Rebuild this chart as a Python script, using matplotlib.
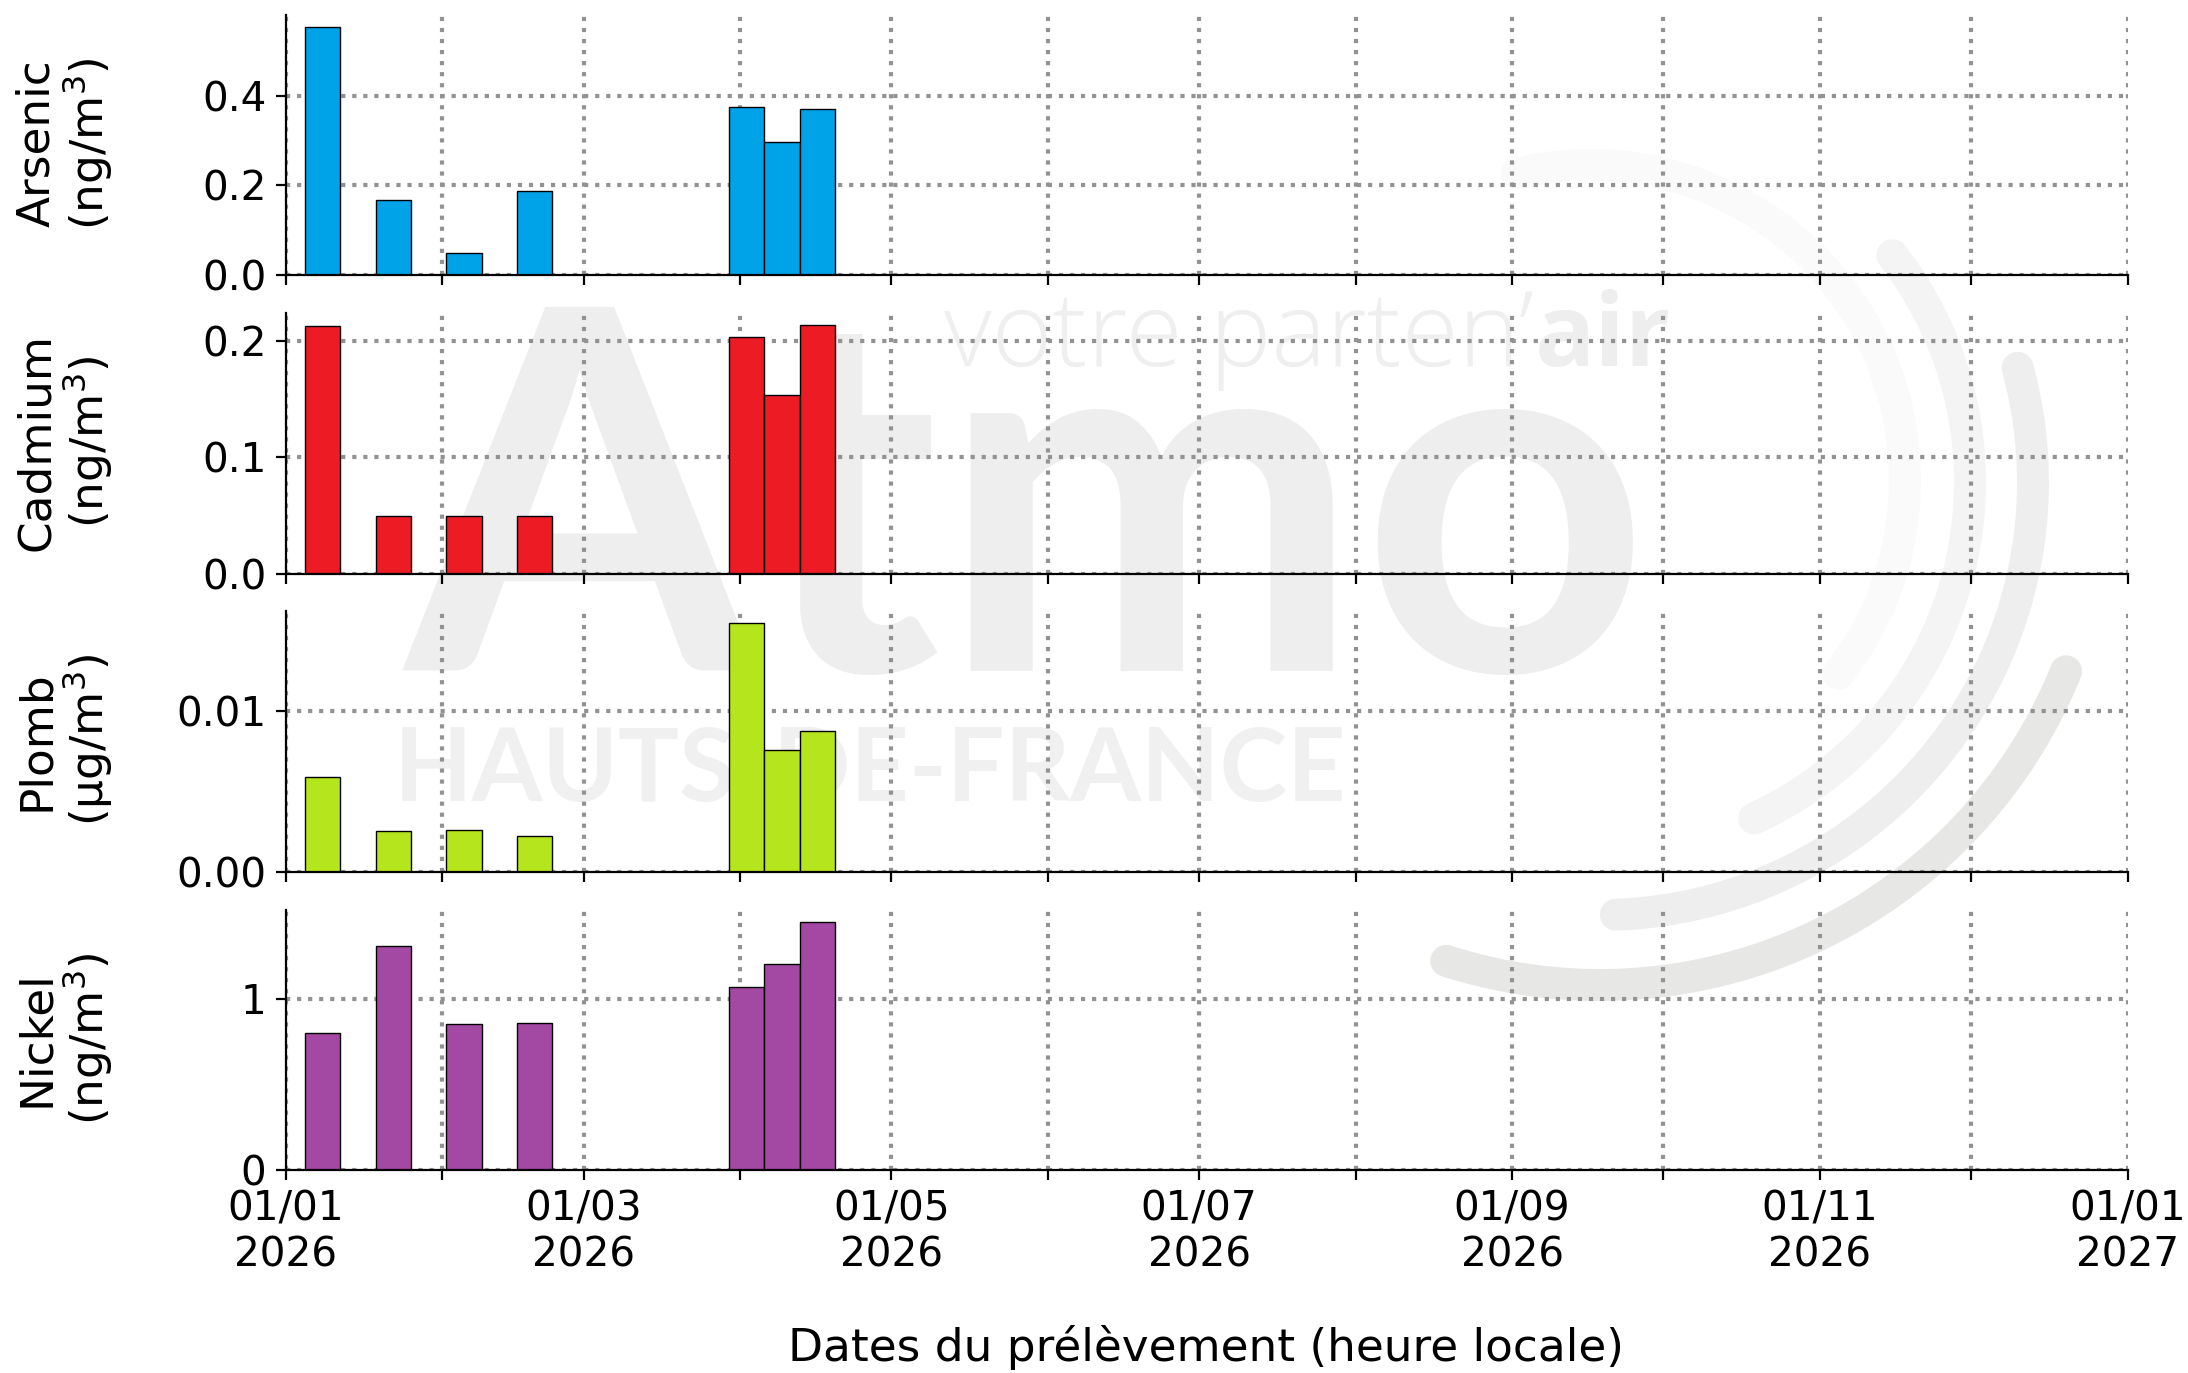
import datetime as dt

import matplotlib
matplotlib.use("Agg")
import matplotlib.dates as mdates
import matplotlib.pyplot as plt
import numpy as np

W, H, DPI = 2188, 1373, 200

# semaines de prelevement
start_dates = ["2026-01-04T19:00", "2026-01-18T19:00", "2026-02-01T19:00", "2026-02-15T19:00",
               "2026-03-29T19:00", "2026-04-05T19:00", "2026-04-12T19:00"]
bar_days = 7

arsenic = [0.5538, 0.1674, 0.050, 0.1868, 0.3741, 0.2978, 0.3714]
cadmium = [0.2125, 0.050, 0.050, 0.050, 0.2036, 0.1533, 0.2134]
plomb = [0.0059, 0.00252, 0.0026, 0.00224, 0.01545, 0.00758, 0.00874]
nickel = [0.803, 1.307, 0.852, 0.858, 1.066, 1.204, 1.445]

labels = ["Arsenic\n(ng/m$^3$)", "Cadmium\n(ng/m$^3$)", "Plomb\n(µg/m$^3$)", "Nickel\n(ng/m$^3$)"]
colors = ["#00A2E8", "#ED1C24", "#B5E61D", "#A349A4"]
yticks = [[0, 0.2, 0.4], [0, 0.1, 0.2], [0, 0.01], [0, 1]]
yticklabels = [["0.0", "0.2", "0.4"], ["0.0", "0.1", "0.2"], ["0.00", "0.01"], ["0", "1"]]
month_ticks = ["2026-%02d-01" % m for m in range(1, 13)] + ["2027-01-01"]
month_labels = ["01/01\n2026", "", "01/03\n2026", "", "01/05\n2026", "", "01/07\n2026", "",
                "01/09\n2026", "", "01/11\n2026", "", "01/01\n2027"]
series = [arsenic, cadmium, plomb, nickel]


def to_num(days):
    return [mdates.date2num(dt.datetime.fromisoformat(d)) for d in days]


fig = plt.figure(figsize=(W / DPI, H / DPI), dpi=DPI)

# logo en filigrane, en pixels de l'image
bg = fig.add_axes([0, 0, 1, 1], zorder=-1)
bg.set_xlim(0, W)
bg.set_ylim(H, 0)
bg.axis("off")
bg.text(405, 671, "Atmo", fontsize=181, color="#eeeeee", family="Lato", weight="bold")
bg.text(394, 801, "HAUTS-DE-FRANCE", fontsize=36.7, color="#f0f0f0", family="Lato", weight="bold")
bg.text(944, 366, "votre parten’", fontsize=37.4, color="#efefef", family="Open Sans", weight="light")
bg.text(1671, 366, "air", fontsize=36, color="#eeeeee", family="Open Sans", weight="bold", ha="right")
for cx, cy, r, a0, a1, col in [(1600, 482, 503, 107.8, 22.1, "#e7e7e5"),
                               (1600, 482, 433, 87.9, -15.3, "#eeeeee"),
                               (1600, 482, 370, 65.4, -37.8, "#f4f4f4"),
                               (1590, 480, 315, 37.9, -103.4, "#fafafa")]:
    t = np.radians(np.linspace(a0, a1, 200))
    bg.plot(cx + r * np.cos(t), cy + r * np.sin(t), color=col, lw=11.5, solid_capstyle="round")

tops = [14.5, 313, 611, 910]
bottoms = [275, 573.7, 872, 1170.3]
left, right = 286, 2127.6

for i, values in enumerate(series):
    ax = fig.add_axes([left / W, 1 - bottoms[i] / H, (right - left) / W, (bottoms[i] - tops[i]) / H])
    ax.patch.set_alpha(0)
    ax.bar(to_num(start_dates), values, width=bar_days, align="edge", color=colors[i],
           edgecolor="black", linewidth=0.5)
    ax.set_xlim(mdates.date2num(dt.date(2026, 1, 1)), mdates.date2num(dt.date(2027, 1, 1)))
    ax.set_ylim(0, max(values) * 1.05)
    ax.set_yticks(yticks[i])
    ax.set_yticklabels(yticklabels[i])
    ax.set_xticks(to_num(month_ticks))
    ax.set_xticklabels(month_labels if i == 3 else [])
    ax.tick_params(labelsize=14.6)
    ax.set_axisbelow(True)
    ax.grid(True, linestyle=":", color="#929292", linewidth=1.5)
    ax.spines["top"].set_visible(False)
    ax.spines["right"].set_visible(False)
    ax.set_ylabel(labels[i], fontsize=16.35, va="center", ha="center", linespacing=1.08)
    ax.yaxis.set_label_coords(-0.12, 0.505)

fig.text(1206 / W, 1 - 1348 / H, "Dates du prélèvement (heure locale)", fontsize=16.35, ha="center", va="center")

fig.savefig("out.png", dpi=DPI)
